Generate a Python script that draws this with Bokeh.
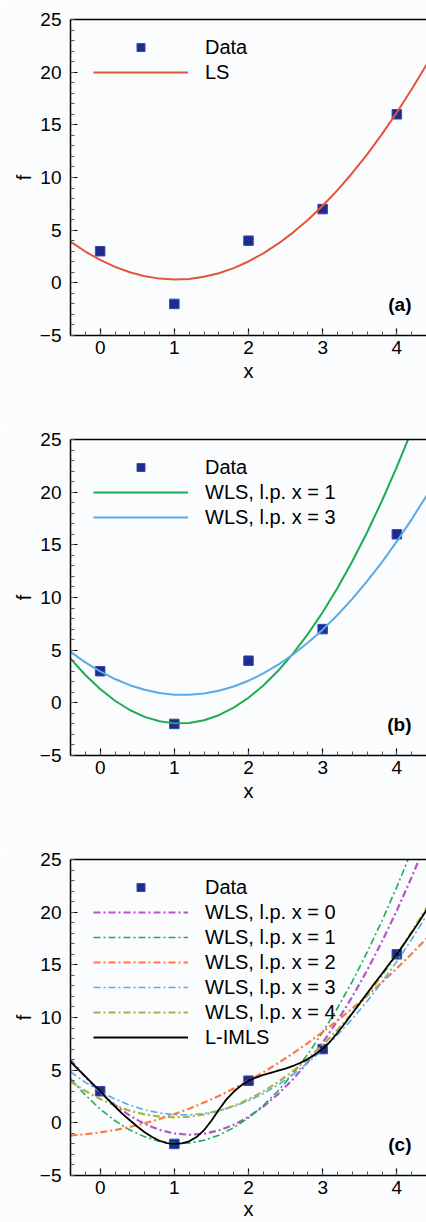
from bokeh.plotting import figure
from bokeh.models import (Range1d, LinearAxis, Legend, LegendItem, Label,
                          SingleIntervalTicker, FixedTicker)
from bokeh.layouts import column
from bokeh.embed import file_html
from bokeh.resources import INLINE

# ---------------- data ----------------
data_x = [0, 1, 2, 3, 4]
data_f = [3, -2, 4, 7, 16]

xs = [-0.4, -0.2, 0.0, 0.2, 0.4, 0.6, 0.8, 1.0, 1.2, 1.4, 1.6, 1.8, 2.0,
      2.2, 2.4, 2.6, 2.8, 3.0, 3.2, 3.4, 3.6, 3.8, 4.0, 4.2, 4.4]

ls_f = [3.914, 2.971, 2.171, 1.514, 1.000, 0.629, 0.400, 0.314, 0.371, 0.571,
        0.914, 1.400, 2.028, 2.800, 3.714, 4.771, 5.971, 7.314, 8.800, 10.428,
        12.200, 14.114, 16.171, 18.371, 20.714]

wls0_f = [6.000, 4.341, 2.900, 1.679, 0.678, -0.105, -0.667, -1.011, -1.136, -1.040,
          -0.725, -0.191, 0.562, 1.534, 2.728, 4.138, 5.769, 7.619, 9.688, 11.978,
          14.485, 17.213, 20.160, 23.326, 26.712]

wls1_f = [4.199, 2.639, 1.305, 0.199, -0.679, -1.331, -1.753, -1.950, -1.919, -1.660,
          -1.174, -0.460, 0.481, 1.649, 3.046, 4.669, 6.520, 8.598, 10.903, 13.437,
          16.197, 19.186, 22.401, 25.844, 29.515]

wls2_f = [-1.203, -1.086, -0.912, -0.680, -0.391, -0.043, 0.362, 0.824, 1.344, 1.921,
          2.557, 3.250, 4.000, 4.808, 5.673, 6.597, 7.578, 8.616, 9.712, 10.865,
          12.077, 13.346, 14.672, 16.056, 17.497]

wls3_f = [4.848, 3.844, 2.980, 2.258, 1.676, 1.235, 0.935, 0.777, 0.760, 0.883,
          1.147, 1.553, 2.100, 2.788, 3.617, 4.586, 5.697, 6.949, 8.342, 9.876,
          11.550, 13.366, 15.324, 17.422, 19.662]

wls4_f = [3.928, 3.027, 2.264, 1.639, 1.152, 0.803, 0.593, 0.520, 0.585, 0.789,
          1.131, 1.610, 2.228, 2.984, 3.878, 4.910, 6.080, 7.388, 8.834, 10.419,
          12.141, 14.001, 16.000, 18.136, 20.411]

xs_fine = [-0.4, -0.3, -0.2, -0.1, 0.0, 0.1, 0.2, 0.3, 0.4, 0.5, 0.6, 0.7, 0.8, 0.9,
           1.0, 1.1, 1.2, 1.3, 1.4, 1.5, 1.6, 1.7, 1.8, 1.9, 2.0, 2.1, 2.2, 2.3,
           2.4, 2.5, 2.6, 2.7, 2.8, 2.9, 3.0, 3.1, 3.2, 3.3, 3.4, 3.5, 3.6, 3.7,
           3.8, 3.9, 4.0, 4.1, 4.2, 4.3, 4.4]

limls_f = [5.8, 5.1, 4.4, 3.7, 3.0, 2.25, 1.55, 0.85, 0.25, -0.35, -0.9, -1.35, -1.7,
           -1.92, -2.0, -1.95, -1.75, -1.35, -0.7, 0.2, 1.25, 2.2, 2.95, 3.55, 4.0,
           4.3, 4.55, 4.75, 4.95, 5.15, 5.4, 5.7, 6.05, 6.5, 7.0, 7.7, 8.55, 9.45,
           10.4, 11.35, 12.3, 13.25, 14.15, 15.1, 16.0, 17.0, 18.05, 19.1, 20.2]

x_ticks_interval = 1
y_ticks_interval = 5

# ---------------- style ----------------
FONT = "Liberation Sans"
BG = "#fbfcfe"
SQ_FILL = "#1c2c92"
SQ_LINE = "#3a4aa8"
DASHDOT = "7 3 2 3"
ROW_H = 23


def make_fig(top, bottom, panel_label, xlabel_standoff):
    p = figure(frame_width=356, frame_height=316,
               x_range=Range1d(-0.4, 4.4), y_range=Range1d(-5, 25),
               output_backend="svg", toolbar_location=None,
               min_border_left=70, min_border_right=0, min_border_top=top,
               min_border_bottom=bottom,
               background_fill_color=BG, border_fill_color=BG)
    p.grid.visible = False
    p.outline_line_color = None
    p.xaxis.ticker = SingleIntervalTicker(interval=x_ticks_interval, num_minor_ticks=5)
    p.yaxis.ticker = SingleIntervalTicker(interval=y_ticks_interval, num_minor_ticks=5)
    p.xaxis.axis_label = "x"
    p.yaxis.axis_label = "f"
    for ax in (p.xaxis, p.yaxis):
        ax.axis_line_color = "black"
        ax.axis_line_width = 1.5
        ax.major_tick_in = 7
        ax.major_tick_out = 0
        ax.minor_tick_in = 4
        ax.minor_tick_out = 0
        ax.major_tick_line_color = "black"
        ax.major_tick_line_width = 1.2
        ax.minor_tick_line_color = "#555555"
        ax.major_label_text_font = FONT
        ax.major_label_text_font_size = "19px"
        ax.major_label_text_color = "black"
        ax.axis_label_text_font = FONT
        ax.axis_label_text_font_size = "20px"
        ax.axis_label_text_font_style = "normal"
        ax.axis_label_text_color = "black"
    p.xaxis.major_label_standoff = 5
    p.xaxis.axis_label_standoff = xlabel_standoff
    p.yaxis.major_label_standoff = 9
    p.yaxis.axis_label_standoff = 2
    top_axis = LinearAxis(ticker=FixedTicker(ticks=[]),
                          major_tick_line_color=None, minor_tick_line_color=None,
                          major_label_standoff=0,
                          axis_line_color="black", axis_line_width=1.5)
    p.add_layout(top_axis, "above")
    p.add_layout(Label(x=341, y=31, x_units="screen", y_units="screen",
                       text=panel_label, text_align="right", text_baseline="middle",
                       text_font=FONT, text_font_size="19px",
                       text_font_style="bold", text_color="black"))
    return p


def add_legend(p, items):
    n = len(items)
    h = n * ROW_H + (n - 1) * 2
    leg = Legend(items=items, location=(23, 316 - 16.5 - h),
                 glyph_width=95, glyph_height=20, label_height=20,
                 label_standoff=17, spacing=2, padding=0, margin=0,
                 border_line_color=None, background_fill_alpha=0,
                 label_text_font=FONT, label_text_font_size="20px",
                 label_text_color="black")
    p.add_layout(leg, "center")


def add_data(p):
    return p.scatter(data_x, data_f, marker="square", size=9.5,
                     fill_color=SQ_FILL, line_color=SQ_LINE, line_width=1)


# ---- panel (a)
pa = make_fig(19, 93, "(a)", 3)
r_data_a = add_data(pa)
r_ls = pa.line(xs, ls_f, line_color="#e2553b", line_width=2)
add_legend(pa, [LegendItem(label="Data", renderers=[r_data_a]),
                LegendItem(label="LS", renderers=[r_ls])])

# ---- panel (b)
pb = make_fig(11, 93, "(b)", 3)
r_data_b = add_data(pb)
r_b1 = pb.line(xs, wls1_f, line_color="#1faa55", line_width=2)
r_b3 = pb.line(xs, wls3_f, line_color="#5aaae6", line_width=2)
add_legend(pb, [LegendItem(label="Data", renderers=[r_data_b]),
                LegendItem(label="WLS, l.p. x = 1", renderers=[r_b1]),
                LegendItem(label="WLS, l.p. x = 3", renderers=[r_b3])])

# ---- panel (c)
pc = make_fig(11, 0, "(c)", 1)
r_data_c = add_data(pc)
r_c0 = pc.line(xs, wls0_f, line_color="#b455c8", line_width=2.2, line_dash=DASHDOT)
r_c1 = pc.line(xs, wls1_f, line_color="#1faa55", line_width=1.6, line_dash=DASHDOT)
r_c2 = pc.line(xs, wls2_f, line_color="#ff7a3c", line_width=2.2, line_dash=DASHDOT)
r_c3 = pc.line(xs, wls3_f, line_color="#5aaae6", line_width=1.6, line_dash=DASHDOT)
r_c4 = pc.line(xs, wls4_f, line_color="#a8b43a", line_width=2.2, line_dash=DASHDOT)
r_cl = pc.line(xs_fine, limls_f, line_color="black", line_width=1.8)
add_legend(pc, [LegendItem(label="Data", renderers=[r_data_c]),
                LegendItem(label="WLS, l.p. x = 0", renderers=[r_c0]),
                LegendItem(label="WLS, l.p. x = 1", renderers=[r_c1]),
                LegendItem(label="WLS, l.p. x = 2", renderers=[r_c2]),
                LegendItem(label="WLS, l.p. x = 3", renderers=[r_c3]),
                LegendItem(label="WLS, l.p. x = 4", renderers=[r_c4]),
                LegendItem(label="L-IMLS", renderers=[r_cl])])

layout = column(pa, pb, pc, spacing=0)
open("out.html", "w").write(file_html(layout, INLINE))
